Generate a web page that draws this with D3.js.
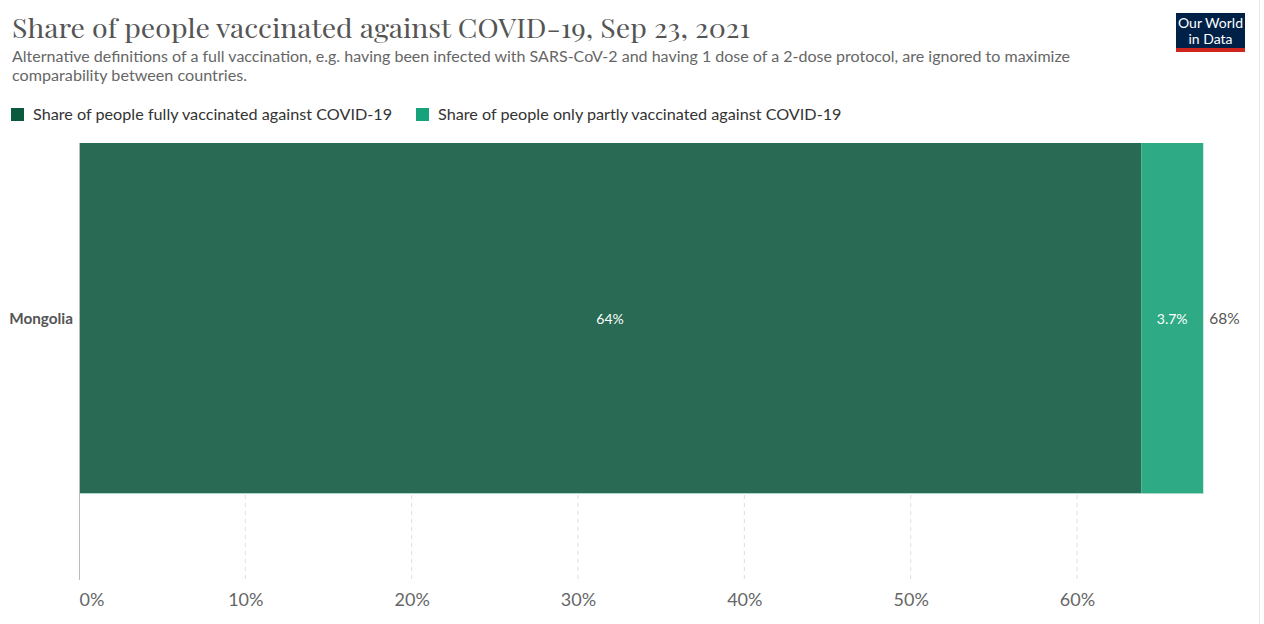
<!DOCTYPE html>
<html><head><meta charset="utf-8">
<script src="https://cdn.jsdelivr.net/npm/d3@7"></script>
<style>
body{margin:0;background:#fff;}
svg{display:block;}
</style></head>
<body>
<svg id="chart" width="1264" height="624"></svg>
<script>
const countries = ["Mongolia"];
const fullyVaccinated = [63.86];
const partlyVaccinated = [3.73];
const totalLabels = ["68%"];
const fullyLabels = ["64%"];
const partlyLabels = ["3.7%"];
const xTicks = [0, 10, 20, 30, 40, 50, 60];
const seriesNames = ["Share of people fully vaccinated against COVID-19", "Share of people only partly vaccinated against COVID-19"];
const legendColors = ["#0b5a3e", "#16a37b"];
const barColors = ["#286a53", "#2eaa85"];

const svg = d3.select("#chart");
const font = "Lato, 'Noto Sans', sans-serif";

// Title
svg.append("text").attr("x", 12).attr("y", 38)
  .attr("font-family", "'Playfair Display', 'DejaVu Serif', 'Liberation Serif', serif")
  .attr("font-size", 26).attr("fill", "#555").attr("textLength", 738).attr("lengthAdjust", "spacingAndGlyphs")
  .text("Share of people vaccinated against COVID-19, Sep 23, 2021");
svg.append("text").attr("x", 12).attr("y", 62).attr("font-family", font).attr("font-size", 15.5).attr("fill", "#666")
  .attr("textLength", 1058).attr("lengthAdjust", "spacingAndGlyphs")
  .text("Alternative definitions of a full vaccination, e.g. having been infected with SARS-CoV-2 and having 1 dose of a 2-dose protocol, are ignored to maximize");
svg.append("text").attr("x", 12).attr("y", 81).attr("font-family", font).attr("font-size", 15.5).attr("fill", "#666")
  .attr("textLength", 235).attr("lengthAdjust", "spacingAndGlyphs")
  .text("comparability between countries.");

// Logo
const logo = svg.append("g");
logo.append("rect").attr("x", 1176).attr("y", 13).attr("width", 69).attr("height", 35).attr("fill", "#002147");
logo.append("rect").attr("x", 1176).attr("y", 48).attr("width", 69).attr("height", 4).attr("fill", "#ce261e");
logo.append("text").attr("x", 1210.5).attr("y", 28).attr("text-anchor", "middle").attr("font-family", font).attr("font-size", 14).attr("fill", "#fff").text("Our World");
logo.append("text").attr("x", 1210.5).attr("y", 44).attr("text-anchor", "middle").attr("font-family", font).attr("font-size", 14).attr("fill", "#fff").text("in Data");
svg.append("line").attr("x1", 1259.5).attr("x2", 1259.5).attr("y1", 0).attr("y2", 624).attr("stroke", "#e8e8e8");

// Legend
const legendX = [11, 416];
seriesNames.forEach((n, i) => {
  svg.append("rect").attr("x", legendX[i]).attr("y", 108).attr("width", 13).attr("height", 13).attr("fill", legendColors[i]);
  svg.append("text").attr("x", legendX[i] + 22).attr("y", 120).attr("font-family", font).attr("font-size", 16.2).attr("fill", "#333").text(n);
});

// Scales
const x = d3.scaleLinear().domain([0, 60]).range([79, 1077]);
const y = d3.scaleBand().domain(countries).range([143, 494]).padding(0);

// Gridlines (behind bars)
const grid = svg.append("g");
grid.selectAll("line").data(xTicks.filter(d => d > 0)).join("line")
  .attr("x1", d => x(d)).attr("x2", d => x(d)).attr("y1", 143).attr("y2", 580)
  .attr("stroke", "#ddd").attr("stroke-dasharray", "4,4");

// Bars
const data = countries.map((c, i) => ({c, f: fullyVaccinated[i], p: partlyVaccinated[i], i}));
const bars = svg.append("g");
bars.selectAll("rect.full").data(data).join("rect").attr("class", "full")
  .attr("x", x(0)).attr("y", d => y(d.c)).attr("width", d => x(d.f) - x(0)).attr("height", y.bandwidth())
  .attr("fill", barColors[0]);
bars.selectAll("rect.part").data(data).join("rect").attr("class", "part")
  .attr("x", d => x(d.f)).attr("y", d => y(d.c)).attr("width", d => x(d.f + d.p) - x(d.f)).attr("height", y.bandwidth())
  .attr("fill", barColors[1]);
bars.selectAll("line.bottom").data(data).join("line").attr("class", "bottom")
  .attr("x1", x(0)).attr("x2", d => x(d.f + d.p)).attr("y1", d => y(d.c) + y.bandwidth() - 0.5).attr("y2", d => y(d.c) + y.bandwidth() - 0.5)
  .attr("stroke", "#a8d8c6").attr("stroke-width", 1);

// Value labels
bars.selectAll("text.fl").data(data).join("text").attr("class", "fl")
  .attr("x", d => (x(0) + x(d.f)) / 2).attr("y", d => y(d.c) + y.bandwidth() / 2 + 5)
  .attr("text-anchor", "middle").attr("font-family", font).attr("font-size", 14).attr("fill", "#fff").text(d => fullyLabels[d.i]);
bars.selectAll("text.pl").data(data).join("text").attr("class", "pl")
  .attr("x", d => (x(d.f) + x(d.f + d.p)) / 2).attr("y", d => y(d.c) + y.bandwidth() / 2 + 5)
  .attr("text-anchor", "middle").attr("font-family", font).attr("font-size", 14).attr("fill", "#fff").text(d => partlyLabels[d.i]);
bars.selectAll("text.tl").data(data).join("text").attr("class", "tl")
  .attr("x", d => x(d.f + d.p) + 6).attr("y", d => y(d.c) + y.bandwidth() / 2 + 5)
  .attr("font-family", font).attr("font-size", 15.5).attr("fill", "#555").text(d => totalLabels[d.i]);

// Category labels
svg.append("g").selectAll("text").data(countries).join("text")
  .attr("x", 73).attr("y", d => y(d) + y.bandwidth() / 2 + 5).attr("text-anchor", "end")
  .attr("font-family", font).attr("font-size", 15.3).attr("font-weight", "bold").attr("fill", "#555").text(d => d);

// Axis line
svg.append("line").attr("x1", 79.5).attr("x2", 79.5).attr("y1", 143).attr("y2", 580).attr("stroke", "#bbb");

// X axis
const xAxis = d3.axisBottom(x).tickValues(xTicks).tickFormat(d => d + "%").tickSize(0);
const ax = svg.append("g").attr("transform", "translate(0,590)").call(xAxis);
ax.select(".domain").remove();
ax.selectAll("text").attr("font-family", font).attr("font-size", 18).attr("fill", "#666").attr("dy", "0.71em")
  .attr("text-anchor", d => d === 0 ? "start" : "middle");
</script>
</body></html>
